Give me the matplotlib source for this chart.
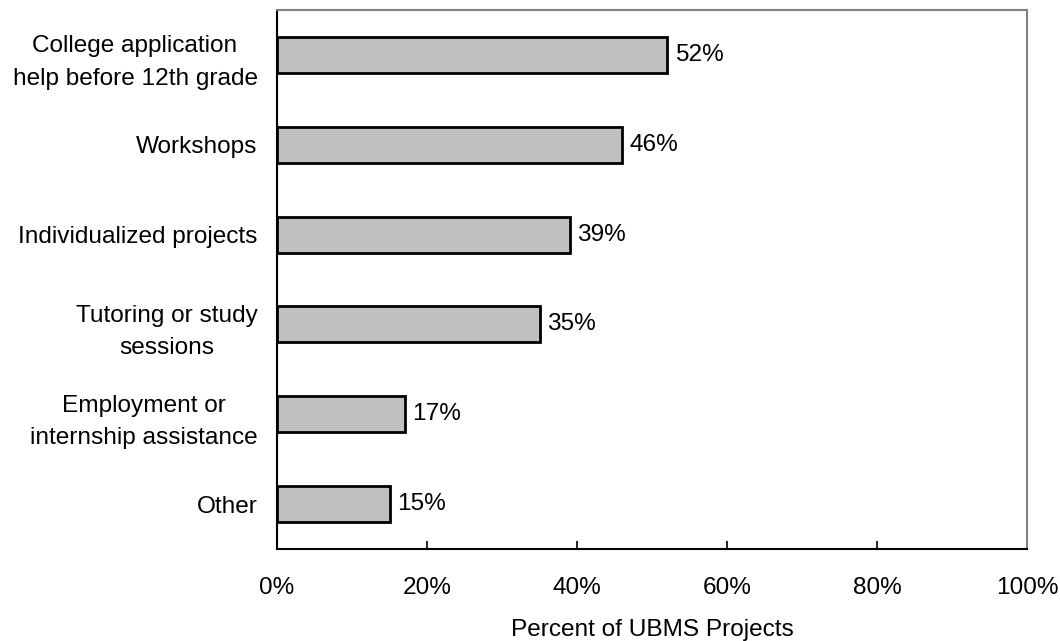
import matplotlib
matplotlib.use("Agg")
import matplotlib.pyplot as plt
from matplotlib.ticker import FuncFormatter

categories = [
    "College application\nhelp before 12th grade",
    "Workshops",
    "Individualized projects",
    "Tutoring or study\nsessions",
    "Employment or\ninternship assistance",
    "Other",
]
values = [52, 46, 39, 35, 17, 15]
xticks = [0, 20, 40, 60, 80, 100]
xlabel = "Percent of UBMS Projects"

plt.rcParams['font.family'] = ['Liberation Sans', 'DejaVu Sans']
fs = 17.6

fig = plt.figure(figsize=(10.6, 6.41), dpi=100)
ax = fig.add_axes([277/1060, 1 - 549/641, 750/1060, 539/641])

pos = list(range(len(categories)))
ax.barh(pos, values, height=0.4, color='#C0C0C0', edgecolor='black', linewidth=2)
ax.set_ylim(len(categories) - 0.5, -0.5)
ax.set_xlim(0, 100)

for p, v in zip(pos, values):
    ax.annotate(f"{v}%", (v, p), xytext=(5.5, 0), textcoords='offset points',
                va='center', ha='left', fontsize=fs)

ax.set_yticks(pos)
ax.set_yticklabels(categories, fontsize=fs, multialignment='center', linespacing=1.6)
ax.tick_params(axis='y', length=0, pad=14)
ax.set_xticks(xticks)
ax.xaxis.set_major_formatter(FuncFormatter(lambda x, _: f"{x:.0f}%"))
ax.tick_params(axis='x', direction='in', length=6, width=1.2, pad=20, labelsize=fs)
ax.set_xlabel(xlabel, fontsize=fs, labelpad=14.5)

for s in ['top', 'right']:
    ax.spines[s].set_color('#808080')
    ax.spines[s].set_linewidth(1.5)
for s in ['left', 'bottom']:
    ax.spines[s].set_color('black')
    ax.spines[s].set_linewidth(1.5)

fig.savefig("out.png", dpi=100, facecolor='white')
